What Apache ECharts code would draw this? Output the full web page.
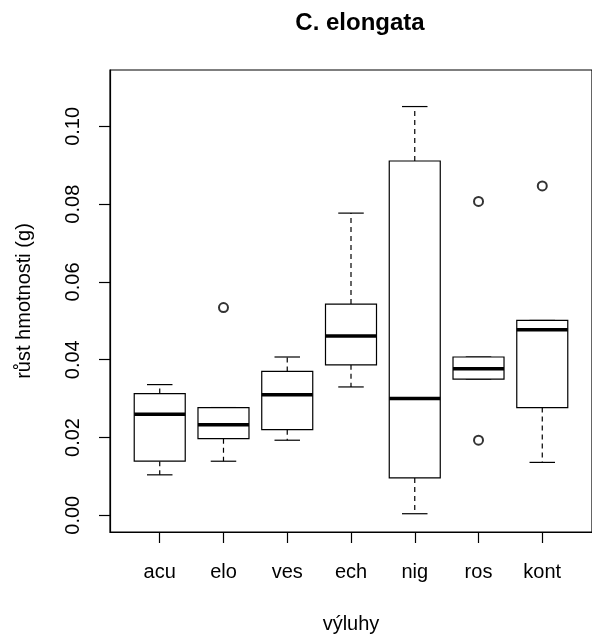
<!DOCTYPE html>
<html>
<head>
<meta charset="utf-8">
<script src="https://cdn.jsdelivr.net/npm/echarts@6/dist/echarts.min.js"></script>
<style>
    html, body { margin: 0; padding: 0; background: #fff; }
    #chart { width: 592px; height: 639px; }
</style>
</head>
<body>
<div id="chart"></div>
<script>
    // skupiny (výluhy)
    var categories = ['acu', 'elo', 'ves', 'ech', 'nig', 'ros', 'kont'];
    // kvartily a vousy
    var lowWhisker  = [0.0104, 0.0139, 0.0193, 0.0330, 0.0004, 0.0350, 0.0136];
    var lowerQuart  = [0.0139, 0.0197, 0.0220, 0.0387, 0.0096, 0.0350, 0.0277];
    var medians     = [0.0260, 0.0233, 0.0310, 0.0461, 0.0300, 0.0377, 0.0477];
    var upperQuart  = [0.0313, 0.0277, 0.0370, 0.0543, 0.0911, 0.0407, 0.0501];
    var highWhisker = [0.0336, 0.0277, 0.0407, 0.0777, 0.1051, 0.0407, 0.0501];
    // odlehlé hodnoty: [index skupiny (1..7), hodnota]
    var outliers = [[2, 0.0534], [6, 0.0807], [6, 0.0193], [7, 0.0847]];
    var yTicks = [0, 0.02, 0.04, 0.06, 0.08, 0.10];

    var font = 'Liberation Sans, Arial, sans-serif';

    var boxData = categories.map(function (c, i) {
        return [i + 1, lowWhisker[i], lowerQuart[i], medians[i], upperQuart[i], highWhisker[i]];
    });

    function renderBox(params, api) {
        var x = api.value(0);
        var unit = api.size([1, 0])[0];
        var half = unit * 0.4;
        var capHalf = unit * 0.2;
        var pLo = api.coord([x, api.value(1)]);
        var pQ1 = api.coord([x, api.value(2)]);
        var pMed = api.coord([x, api.value(3)]);
        var pQ3 = api.coord([x, api.value(4)]);
        var pHi = api.coord([x, api.value(5)]);
        var cx = pMed[0];
        var thin = { stroke: '#000', lineWidth: 1.2 };
        var dashed = { stroke: '#000', lineWidth: 1.2, lineDash: [5, 4] };
        return {
            type: 'group',
            children: [
                { type: 'line', shape: { x1: cx, y1: pQ1[1], x2: cx, y2: pLo[1] }, style: dashed },
                { type: 'line', shape: { x1: cx, y1: pQ3[1], x2: cx, y2: pHi[1] }, style: dashed },
                { type: 'line', shape: { x1: cx - capHalf, y1: pLo[1], x2: cx + capHalf, y2: pLo[1] }, style: thin },
                { type: 'line', shape: { x1: cx - capHalf, y1: pHi[1], x2: cx + capHalf, y2: pHi[1] }, style: thin },
                { type: 'rect', shape: { x: cx - half, y: pQ3[1], width: half * 2, height: pQ1[1] - pQ3[1] },
                  style: { fill: '#fff', stroke: '#000', lineWidth: 1.2 } },
                { type: 'line', shape: { x1: cx - half, y1: pMed[1], x2: cx + half, y2: pMed[1] },
                  style: { stroke: '#000', lineWidth: 3.5 } }
            ]
        };
    }

    var myChart = echarts.init(document.getElementById('chart'));

    var option = {
        animation: false,
        backgroundColor: '#fff',
        title: {
            text: 'C. elongata',
            left: 355,
            top: 6,
            textAlign: 'center',
            textStyle: { fontFamily: font, fontSize: 24, fontWeight: 'bold', color: '#000' }
        },
        grid: {
            left: 110,
            top: 70,
            width: 490,
            height: 465,
            show: true,
            borderColor: '#000',
            borderWidth: 1.2,
            backgroundColor: 'transparent'
        },
        xAxis: {
            type: 'value',
            min: 0.22,
            max: 7.78,
            name: 'výluhy',
            nameLocation: 'middle',
            nameGap: 82,
            nameTextStyle: { fontFamily: font, fontSize: 20, color: '#000' },
            axisLine: { show: true, onZero: false, lineStyle: { color: '#000', width: 1.2 } },
            axisTick: { show: true, length: 11, lineStyle: { color: '#000', width: 1.2 }, customValues: [1, 2, 3, 4, 5, 6, 7] },
            axisLabel: {
                fontFamily: font, fontSize: 20, color: '#000', margin: 30,
                customValues: [1, 2, 3, 4, 5, 6, 7],
                formatter: function (v) { return categories[Math.round(v) - 1]; }
            },
            splitLine: { show: false }
        },
        yAxis: {
            type: 'value',
            min: -0.0043,
            max: 0.1145,
            name: 'růst hmotnosti (g)',
            nameLocation: 'middle',
            nameRotate: 90,
            nameGap: 76,
            nameTextStyle: { fontFamily: font, fontSize: 20, color: '#000' },
            axisLine: { show: true, onZero: false, lineStyle: { color: '#000', width: 1.2 } },
            axisTick: { show: true, length: 11, lineStyle: { color: '#000', width: 1.2 }, customValues: yTicks },
            axisLabel: {
                fontFamily: font, fontSize: 20, color: '#000', margin: 27, rotate: 90,
                customValues: yTicks,
                formatter: function (v) { return v.toFixed(2); }
            },
            splitLine: { show: false }
        },
        series: [
            {
                type: 'custom',
                renderItem: renderBox,
                data: boxData,
                encode: { x: 0, y: [1, 2, 3, 4, 5] },
                clip: true,
                z: 2
            },
            {
                type: 'scatter',
                data: outliers,
                symbol: 'emptyCircle',
                symbolSize: 9,
                z: 3,
                itemStyle: { color: '#000', borderColor: '#000', borderWidth: 1 }
            }
        ]
    };

    myChart.setOption(option);
</script>
</body>
</html>
